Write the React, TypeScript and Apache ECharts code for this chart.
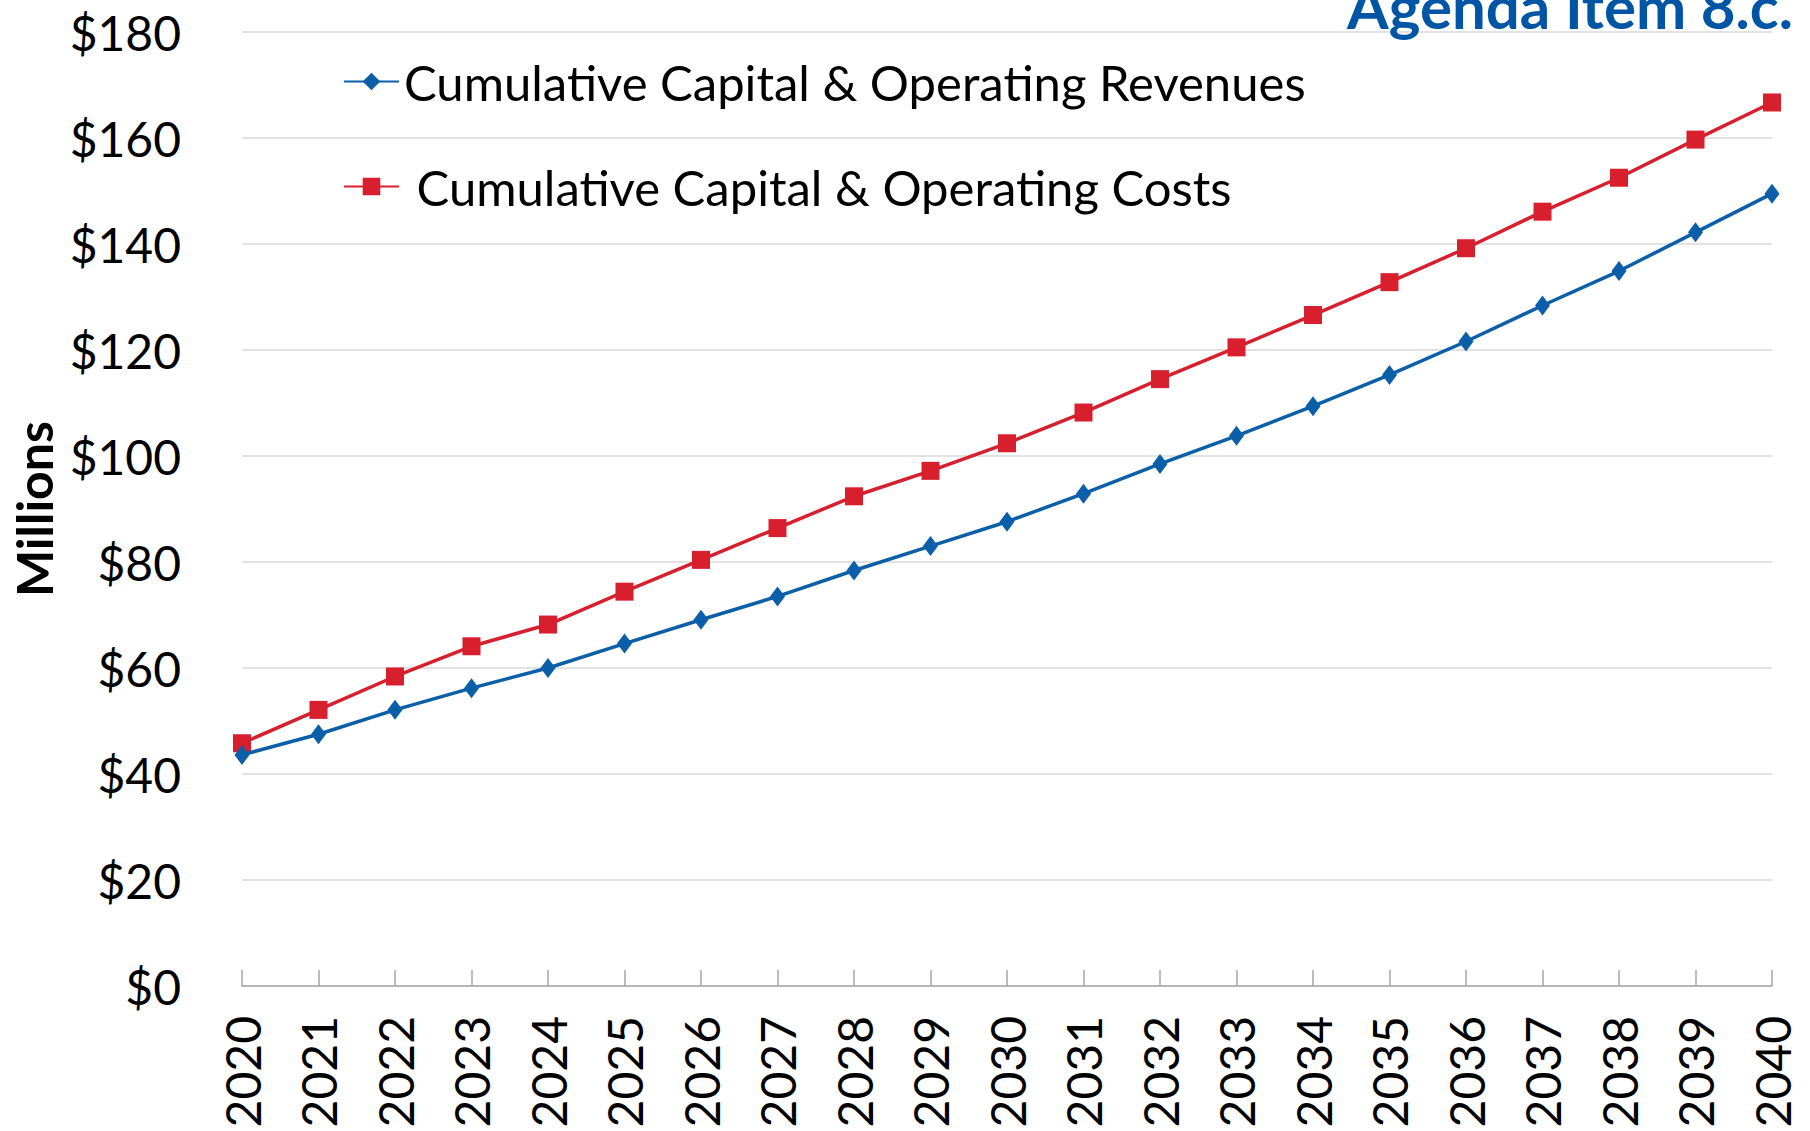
import React, { useEffect, useRef } from "react";
import * as echarts from "echarts";

const years = [
  "2020", "2021", "2022", "2023", "2024", "2025", "2026", "2027", "2028", "2029", "2030",
  "2031", "2032", "2033", "2034", "2035", "2036", "2037", "2038", "2039", "2040",
];
const revenues = [
  43.6, 47.5, 52.1, 56.2, 60.0, 64.6, 69.1, 73.5, 78.4, 83.0, 87.6,
  92.9, 98.5, 103.8, 109.4, 115.3, 121.6, 128.4, 134.9, 142.2, 149.5,
];
const costs = [
  45.8, 52.1, 58.4, 64.1, 68.2, 74.4, 80.4, 86.4, 92.4, 97.2, 102.4,
  108.2, 114.5, 120.5, 126.6, 132.8, 139.2, 146.1, 152.5, 159.7, 166.7,
];
const revenueName = "Cumulative Capital & Operating Revenues";
const costName = " Cumulative Capital & Operating Costs";
const yAxisName = "Millions";
const titleText = "Agenda Item 8.c.";

const FONT = "Lato";
const BLUE = "#0b5ea8";
const RED = "#d71f2e";

export default function App() {
  const ref = useRef<HTMLDivElement>(null);
  useEffect(() => {
    if (!ref.current) return;
    const chart = echarts.init(ref.current, null, { renderer: "svg" });
    chart.setOption({
      animation: false,
      backgroundColor: "#ffffff",
      textStyle: { fontFamily: FONT },
      grid: { left: 242, right: 38, top: 32, bottom: 145, containLabel: false },
      legend: {
        orient: "vertical",
        left: 338,
        top: 52,
        itemWidth: 55,
        itemHeight: 22,
        itemGap: 56,
        textStyle: { fontFamily: FONT, fontSize: 49, color: "#000000" },
        data: [revenueName, costName],
      },
      graphic: [
        {
          type: "text",
          right: 17,
          top: -24,
          style: {
            text: titleText,
            fontFamily: FONT,
            fontWeight: "bold",
            fontSize: 60,
            fill: "#0055a5",
          },
          z: 100,
        },
      ],
      xAxis: {
        type: "category",
        data: years,
        boundaryGap: false,
        axisLine: { show: true, lineStyle: { color: "#a6a6a6", width: 1.5 } },
        axisTick: { show: true, inside: true, length: 16, interval: 0, lineStyle: { color: "#a6a6a6", width: 1.5 } },
        axisLabel: {
          interval: 0,
          rotate: 90,
          margin: 30,
          fontFamily: FONT,
          fontSize: 48,
          color: "#000000",
        },
        splitLine: { show: false },
      },
      yAxis: {
        type: "value",
        min: 0,
        max: 180,
        interval: 20,
        name: yAxisName,
        nameLocation: "middle",
        nameRotate: 90,
        nameGap: 178,
        nameTextStyle: { fontFamily: FONT, fontSize: 50, fontWeight: "bold", color: "#000000" },
        axisLine: { show: false },
        axisTick: { show: false },
        axisLabel: {
          margin: 61,
          fontFamily: FONT,
          fontSize: 48,
          color: "#000000",
          formatter: (v: number) => "$" + v,
        },
        splitLine: { show: true, lineStyle: { color: "#d9d9d9", width: 1.5 } },
      },
      series: [
        {
          name: revenueName,
          type: "line",
          data: revenues,
          symbol: "diamond",
          symbolSize: [15, 20],
          lineStyle: { color: BLUE, width: 3.5 },
          itemStyle: { color: BLUE },
          z: 3,
        },
        {
          name: costName,
          type: "line",
          data: costs,
          symbol: "rect",
          symbolSize: 18,
          lineStyle: { color: RED, width: 3.5 },
          itemStyle: { color: RED },
          z: 2,
        },
      ],
    });
    return () => chart.dispose();
  }, []);
  return (
    <div
      ref={ref}
      style={{ position: "fixed", left: 0, top: 0, width: "1810px", height: "1131px", background: "#fff" }}
    />
  );
}
